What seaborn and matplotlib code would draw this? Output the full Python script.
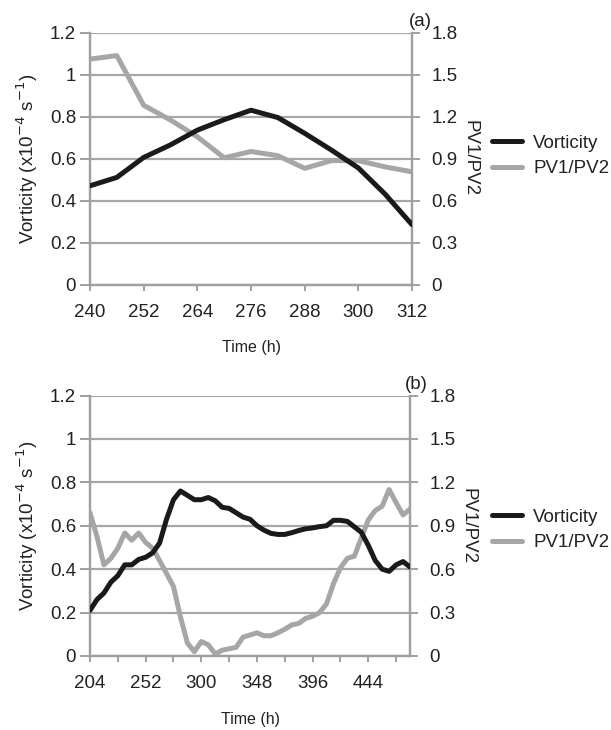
import numpy as np
import pandas as pd
import matplotlib
matplotlib.use("Agg")
import matplotlib.pyplot as plt
import seaborn as sns
from matplotlib.ticker import FixedLocator

# ---- data (panel a) ----
time_a = [240, 246, 252, 258, 264, 270, 276, 282, 288, 294, 300, 306, 312]
vort_a = [0.47, 0.51, 0.605, 0.665, 0.735, 0.785, 0.83, 0.795, 0.72, 0.64, 0.555, 0.43, 0.285]
pv_a = [1.61, 1.635, 1.28, 1.175, 1.055, 0.905, 0.95, 0.92, 0.83, 0.885, 0.885, 0.84, 0.805]

# ---- data (panel b) ----
time_b = list(range(204, 481, 6))
vort_b = [0.21, 0.26, 0.29, 0.34, 0.37, 0.42, 0.42, 0.445, 0.455, 0.475,
          0.52, 0.63, 0.72, 0.76, 0.74, 0.72, 0.72, 0.73, 0.715, 0.685,
          0.68, 0.66, 0.64, 0.63, 0.60, 0.58, 0.565, 0.56, 0.56, 0.568,
          0.578, 0.586, 0.59, 0.596, 0.60, 0.625, 0.625, 0.62, 0.595, 0.57,
          0.51, 0.44, 0.40, 0.39, 0.42, 0.435, 0.41]
pv_b = [0.99, 0.825, 0.63, 0.675, 0.745, 0.85, 0.80, 0.85, 0.785, 0.745,
        0.66, 0.57, 0.48, 0.27, 0.09, 0.03, 0.10, 0.078, 0.014, 0.04,
        0.05, 0.06, 0.13, 0.145, 0.16, 0.14, 0.14, 0.16, 0.185, 0.215,
        0.225, 0.26, 0.275, 0.30, 0.36, 0.50, 0.61, 0.675, 0.69, 0.815,
        0.94, 1.005, 1.035, 1.15, 1.06, 0.975, 1.015]

left_ticks = [0, 0.2, 0.4, 0.6, 0.8, 1.0, 1.2]
left_labels = ["0", "0.2", "0.4", "0.6", "0.8", "1", "1.2"]
right_ticks = [0, 0.3, 0.6, 0.9, 1.2, 1.5, 1.8]
right_labels = ["0", "0.3", "0.6", "0.9", "1.2", "1.5", "1.8"]

sns.set_theme(style="white")
plt.rcParams["font.family"] = ["Liberation Sans", "DejaVu Sans"]
FS = 13.5
GRID = "#a6a6a6"
SPINE = "#a0a0a0"
BLACK = "#1a1a1a"
GRAY = "#a6a6a6"
LW = 3.6
TXT = "#222222"

fig = plt.figure(figsize=(6.11, 7.30), dpi=100)


def panel(rect, t, v, p, tag, major, minor, tag_xy, legend_y):
    ax = fig.add_axes(rect)
    ax2 = ax.twinx()
    df = pd.DataFrame({"t": t, "v": v, "p": p})
    sns.lineplot(data=df, x="t", y="v", ax=ax, color=BLACK, lw=LW,
                 label="Vorticity", legend=False, zorder=3)
    sns.lineplot(data=df, x="t", y="p", ax=ax2, color=GRAY, lw=LW,
                 label="PV1/PV2", legend=False, zorder=2)
    ax.set_zorder(ax2.get_zorder() + 1)
    ax.patch.set_visible(False)

    ax.set_xlim(t[0], t[-1])
    ax.set_ylim(0, 1.2)
    ax2.set_ylim(0, 1.8)
    ax.set_yticks(left_ticks)
    ax.set_yticklabels(left_labels)
    ax2.set_yticks(right_ticks)
    ax2.set_yticklabels(right_labels)
    ax.xaxis.set_major_locator(FixedLocator(major))
    ax.set_xticklabels([str(m) for m in major])
    if minor:
        ax.xaxis.set_minor_locator(FixedLocator(minor))
    for a in (ax, ax2):
        for s in a.spines.values():
            s.set_color(SPINE)
            s.set_linewidth(1.6)
        a.spines["top"].set_visible(False)
    ax.grid(axis="y", color=GRID, lw=1.6)
    ax.grid(axis="x", visible=False)
    ax2.grid(False)
    ax.tick_params(axis="y", which="both", direction="out", length=7, width=1.4,
                   color=SPINE, labelsize=FS, labelcolor=TXT, pad=3, left=True)
    ax.tick_params(axis="x", which="both", direction="out", length=4, width=1.4,
                   color=SPINE, labelsize=FS, labelcolor=TXT, pad=10, bottom=True)
    ax2.tick_params(axis="y", direction="out", length=6, width=1.4, color=SPINE,
                    labelsize=FS, labelcolor=TXT, pad=8, right=True)
    ax.set_xlabel("Time (h)", fontsize=11.5, color=TXT, labelpad=14)
    ax.set_ylabel("Vorticity (x10$^{-4}$ s$^{-1}$)", fontsize=13.5,
                  color=TXT, labelpad=7)
    ax2.set_ylabel("PV1/PV2", fontsize=FS, color=TXT, rotation=-90, labelpad=15)
    fig.text(tag_xy[0], tag_xy[1], tag, fontsize=FS, color=TXT,
             ha="right", va="bottom")
    h1, l1 = ax.get_legend_handles_labels()
    h2, l2 = ax2.get_legend_handles_labels()
    fig.legend(h1 + h2, l1 + l2, loc="center left",
               bbox_to_anchor=(492 / 611, legend_y), frameon=False,
               fontsize=FS, handlelength=1.6, handletextpad=0.6,
               labelspacing=0.45, borderpad=0, borderaxespad=0, labelcolor=TXT)
    return ax, ax2


panel([90 / 611, 1 - 284.5 / 730, 322 / 611, 252 / 730], time_a, vort_a, pv_a, "(a)",
      list(range(240, 313, 12)), None, (432 / 611, 1 - 30 / 730), 1 - 156 / 730)
panel([90 / 611, 1 - 656 / 730, 320 / 611, 260.5 / 730], time_b, vort_b, pv_b, "(b)",
      list(range(204, 481, 48)), list(range(228, 481, 48)),
      (428 / 611, 1 - 393 / 730), 1 - 530 / 730)

fig.savefig("out.png", dpi=100)
